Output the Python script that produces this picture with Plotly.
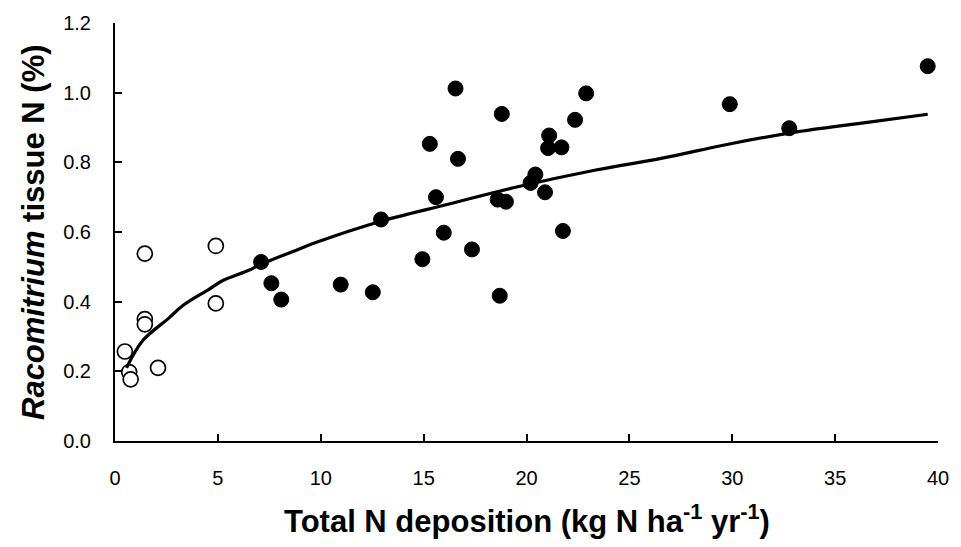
import plotly.graph_objects as go

# Open circles (low-deposition sites)
open_x = [1.45, 4.9, 1.45, 1.45, 4.9, 0.48, 0.69, 0.76, 2.09]
open_y = [0.538, 0.56, 0.35, 0.335, 0.395, 0.257, 0.198, 0.177, 0.21]

# Filled circles
fill_x = [16.55, 18.8, 22.9, 22.36, 15.3, 16.67, 21.1, 21.05, 21.7, 20.43,
          20.2, 20.9, 15.6, 18.6, 19.0, 12.93, 15.98, 21.77, 17.35, 14.94,
          7.1, 7.6, 8.08, 10.97, 12.53, 18.7, 29.88, 32.77, 39.5]
fill_y = [1.012, 0.939, 0.998, 0.922, 0.853, 0.81, 0.877, 0.841, 0.843, 0.765,
          0.741, 0.714, 0.70, 0.693, 0.687, 0.636, 0.598, 0.603, 0.55, 0.522,
          0.514, 0.453, 0.406, 0.449, 0.427, 0.417, 0.967, 0.898, 1.076]

# Fitted curve
fit_x = [0.56, 1.36, 2.6, 3.3, 4.58, 5.22, 6.5, 7.0, 8.9, 9.72, 12.93,
         16.14, 19.36, 23.37, 26.6, 29.8, 33.0, 36.2, 39.5]
fit_y = [0.21, 0.289, 0.352, 0.389, 0.436, 0.46, 0.49, 0.505, 0.55, 0.569, 0.631,
         0.679, 0.727, 0.778, 0.812, 0.852, 0.886, 0.912, 0.938]

x_ticks = [0, 5, 10, 15, 20, 25, 30, 35, 40]
y_ticks = [0.0, 0.2, 0.4, 0.6, 0.8, 1.0, 1.2]
y_tick_text = ["0.0", "0.2", "0.4", "0.6", "0.8", "1.0", "1.2"]

FONT = "Liberation Sans, Arial, sans-serif"

fig = go.Figure()
fig.add_trace(go.Scatter(
    x=open_x, y=open_y, mode="markers",
    marker=dict(symbol="circle", size=15, color="white",
                line=dict(color="black", width=1.7)),
    showlegend=False, cliponaxis=False))
fig.add_trace(go.Scatter(
    x=fill_x, y=fill_y, mode="markers",
    marker=dict(symbol="circle", size=15, color="black",
                line=dict(color="black", width=1)),
    showlegend=False, cliponaxis=False))
fig.add_trace(go.Scatter(
    x=fit_x, y=fit_y, mode="lines",
    line=dict(color="black", width=3.2, shape="spline"),
    showlegend=False))

fig.update_layout(
    width=961, height=547,
    margin=dict(l=115, r=16, t=21, b=106),
    paper_bgcolor="white", plot_bgcolor="white",
    font=dict(family=FONT, color="black", size=20),
    xaxis=dict(range=[0, 40], tickvals=x_ticks, ticks="inside", ticklen=7,
               tickwidth=1.5, tickcolor="black", showline=True, linecolor="black",
               linewidth=2, showgrid=False, zeroline=False,
               tickfont=dict(family=FONT, size=20), ticklabelstandoff=18),
    yaxis=dict(range=[0, 1.2], tickvals=y_ticks, ticktext=y_tick_text,
               ticks="inside", ticklen=7, tickwidth=1.5, tickcolor="black",
               showline=True, linecolor="black", linewidth=2, showgrid=False,
               zeroline=False, tickfont=dict(family=FONT, size=20),
               ticklabelstandoff=18),
    annotations=[
        dict(text="<b>Total N deposition (kg N ha<sup>-1</sup> yr<sup>-1</sup>)</b>",
             xref="paper", yref="paper", x=0.5, y=0, yshift=-78,
             xanchor="center", yanchor="middle", showarrow=False,
             font=dict(family=FONT, size=31, color="black")),
        dict(text="<b><i>Racomitrium</i> tissue N (%)</b>",
             xref="paper", yref="paper", x=0, y=0.5, xshift=-82,
             xanchor="center", yanchor="middle", textangle=-90, showarrow=False,
             font=dict(family=FONT, size=31, color="black")),
    ],
)

# Remove the browser's default 8px page margin so the figure sits at (0, 0).
fig.write_html("out.html", config={"displayModeBar": False},
               post_script="document.body.style.margin='0';")
